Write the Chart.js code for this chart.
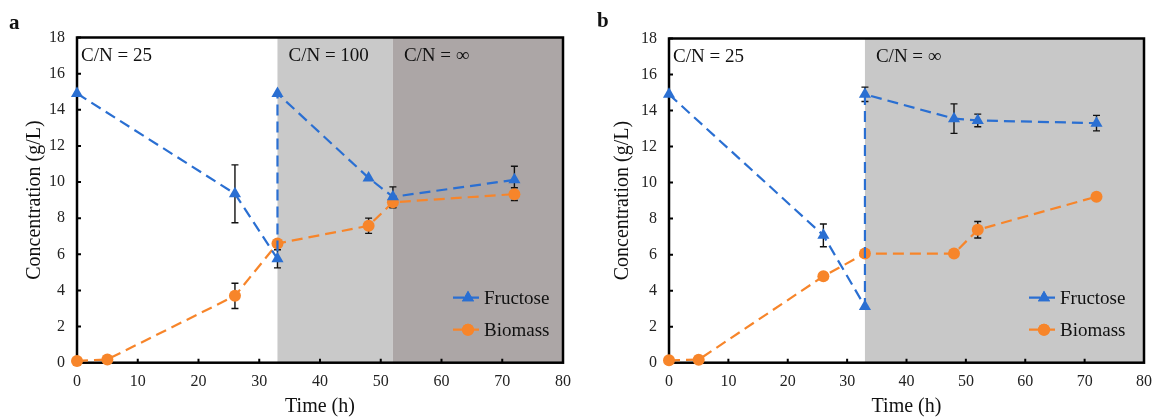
<!DOCTYPE html>
<html>
<head>
<meta charset="utf-8">
<script src="https://cdn.jsdelivr.net/npm/chart.js@4.4.1/dist/chart.umd.min.js"></script>
<style>
  body { margin: 0; background: #fff; }
  #page { position: relative; width: 1161px; height: 419px; overflow: hidden; background: #fff; }
  .panel { position: absolute; top: 0; height: 419px; }
  .tag { position: absolute; font: bold 21px 'Liberation Serif', serif; color: #111; line-height: 1; }
</style>
</head>
<body>
<div id="page">
  <div class="panel" style="left:0;width:580px"><canvas id="chartA"></canvas></div>
  <div class="panel" style="left:580px;width:581px"><canvas id="chartB"></canvas></div>
  <div class="tag" style="left:9px;top:12px">a</div>
  <div class="tag" style="left:597px;top:10px">b</div>
</div>
<script>
// ---- data ----
const xTickValues = [0, 10, 20, 30, 40, 50, 60, 70, 80];
const yTickValues = [0, 2, 4, 6, 8, 10, 12, 14, 16, 18];

// panel a
const fructoseTimeA = [0, 26, 33, 33, 48, 52, 72];
const fructoseA = [14.9, 9.35, 5.75, 14.9, 10.23, 9.18, 10.12];
const fructoseErrA = [0, 1.6, 0.5, 0, 0, 0.55, 0.75];
const biomassTimeA = [0, 5, 26, 33, 48, 52, 72];
const biomassA = [0.1, 0.18, 3.7, 6.6, 7.58, 8.88, 9.33];
const biomassErrA = [0, 0, 0.7, 0.15, 0.42, 0.3, 0.35];
const phaseStartA = [0, 33, 52];
const phaseEndA = [33, 52, 80];
const phaseLabelA = ['C/N = 25', 'C/N = 100', 'C/N = \u221e'];

// panel b
const fructoseTimeB = [0, 26, 33, 33, 48, 52, 72];
const fructoseB = [14.9, 7.07, 3.12, 14.9, 13.55, 13.45, 13.3];
const fructoseErrB = [0, 0.63, 0, 0.4, 0.82, 0.35, 0.43];
const biomassTimeB = [0, 5, 26, 33, 48, 52, 72];
const biomassB = [0.13, 0.17, 4.8, 6.06, 6.06, 7.38, 9.22];
const biomassErrB = [0, 0, 0, 0, 0, 0.46, 0];
const phaseStartB = [0, 33];
const phaseEndB = [33, 80];
const phaseLabelB = ['C/N = 25', 'C/N = \u221e'];

const BLUE = '#2a6fd2';
const ORANGE = '#f7852a';

Chart.defaults.font.family = '"Liberation Serif", "Times New Roman", serif';
Chart.defaults.color = '#222';

function toPoints(xs, ys) {
    return xs.map((v, i) => ({x: v, y: ys[i]}))
}

// shading, frame, inward ticks, phase labels, error bars and legend
const panelDecor = {
    id: 'panelDecor',
    beforeDatasetsDraw(chart, args, opts) {
        const {ctx, chartArea: area} = chart
        const x = chart.scales.x, y = chart.scales.y
        ctx.save()
        opts.starts.forEach((s, i) => {
            const x0 = x.getPixelForValue(s), x1 = x.getPixelForValue(opts.ends[i])
            ctx.fillStyle = opts.colors[i]
            ctx.fillRect(x0, area.top, x1 - x0, area.bottom - area.top)
        })

        ctx.strokeStyle = '#000'
        ctx.lineWidth = 2.5
        ctx.strokeRect(area.left, area.top, area.right - area.left, area.bottom - area.top)

        ctx.lineWidth = 2
        ctx.beginPath()
        x.ticks.forEach(t => {
            const px = x.getPixelForValue(t.value)
            ctx.moveTo(px, area.bottom)
            ctx.lineTo(px, area.bottom - 4)
        })
        y.ticks.forEach(t => {
            const py = y.getPixelForValue(t.value)
            ctx.moveTo(area.left, py)
            ctx.lineTo(area.left + 4, py)
        })
        ctx.stroke()

        ctx.font = '19px "Liberation Serif"'
        ctx.fillStyle = '#111'
        ctx.textBaseline = 'middle'
        ctx.textAlign = 'left'
        opts.starts.forEach((s, i) => {
            const px = x.getPixelForValue(s) + (i === 0 ? 4 : 11)
            ctx.fillText(opts.labels[i], px, area.top + 19)
        })

        // error bars go under the markers
        ctx.strokeStyle = '#111'
        ctx.lineWidth = 1.4
        chart.data.datasets.forEach(ds => {
            ds.data.forEach((p, i) => {
                const e = ds.errorBars[i]
                if (!e) return
                const px = x.getPixelForValue(p.x)
                const top = y.getPixelForValue(p.y + e), bot = y.getPixelForValue(p.y - e)
                ctx.beginPath()
                ctx.moveTo(px, top); ctx.lineTo(px, bot)
                ctx.moveTo(px - 3.5, top); ctx.lineTo(px + 3.5, top)
                ctx.moveTo(px - 3.5, bot); ctx.lineTo(px + 3.5, bot)
                ctx.stroke()
            })
        })
        ctx.restore()
    },
    afterDraw(chart, args, opts) {
        const {ctx, chartArea: area} = chart
        ctx.save()
        chart.data.datasets.forEach((ds, i) => {
            const x0 = area.right - opts.legendRight
            const yy = area.bottom - 65 + i * 32
            ctx.strokeStyle = ds.borderColor
            ctx.lineWidth = ds.borderWidth
            ctx.setLineDash([11, 4])
            ctx.beginPath()
            ctx.moveTo(x0, yy)
            ctx.lineTo(x0 + 28, yy)
            ctx.stroke()
            ctx.setLineDash([])
            ctx.fillStyle = ds.backgroundColor
            Chart.helpers.drawPoint(ctx, {pointStyle: ds.pointStyle, radius: ds.pointRadius, borderWidth: 0, rotation: 0}, x0 + 15, yy)
            ctx.fill()
            ctx.fillStyle = '#111'
            ctx.font = '19px "Liberation Serif"'
            ctx.textBaseline = 'middle'
            ctx.fillText(ds.label, x0 + 31, yy + 1)
        })
        ctx.restore()
    }
}

function makeChart(id, p) {
    const lineStyle = {
        borderWidth: 2.2,
        borderDash: [11, 6],
        pointBorderWidth: 0,
        clip: false,
        tension: 0
    }
    return new Chart(document.getElementById(id), {
        type: 'line',
        data: {
            datasets: [{
                ...lineStyle,
                label: 'Fructose',
                data: toPoints(p.fTime, p.fructose),
                errorBars: p.fErr,
                borderColor: BLUE,
                backgroundColor: BLUE,
                pointStyle: 'triangle',
                pointRadius: 7
            }, {
                ...lineStyle,
                label: 'Biomass',
                data: toPoints(p.bTime, p.biomass),
                errorBars: p.bErr,
                borderColor: ORANGE,
                backgroundColor: ORANGE,
                pointStyle: 'circle',
                pointRadius: 6
            }]
        },
        options: {
            responsive: true,
            maintainAspectRatio: false,
            animation: false,
            layout: {padding: {left: 0, right: p.padRight, top: p.top, bottom: 0}},
            plugins: {
                legend: {display: false},
                tooltip: {enabled: false},
                panelDecor: {
                    starts: p.starts,
                    ends: p.ends,
                    labels: p.labels,
                    colors: p.colors,
                    legendRight: p.legendRight
                }
            },
            scales: {
                x: {
                    type: 'linear',
                    min: 0,
                    max: 80,
                    afterBuildTicks: s => { s.ticks = xTickValues.map(v => ({value: v})) },
                    afterFit: s => { s.height = 419 - 362.7 },
                    grid: {display: false, drawTicks: false},
                    border: {display: false},
                    ticks: {padding: 9, font: {size: 16}, color: '#222', maxRotation: 0},
                    title: {display: true, text: 'Time (h)', font: {size: 20}, color: '#111', padding: {top: 0, bottom: 0}}
                },
                y: {
                    min: 0,
                    max: 18,
                    afterBuildTicks: s => { s.ticks = yTickValues.map(v => ({value: v})) },
                    afterFit: s => { s.width = p.left },
                    grid: {display: false, drawTicks: false},
                    border: {display: false},
                    ticks: {padding: 12, font: {size: 16}, color: '#222'},
                    title: {display: true, text: 'Concentration (g/L)', font: {size: 20}, color: '#111', padding: {top: p.titlePad, bottom: 0}}
                }
            }
        },
        plugins: [panelDecor]
    })
}

makeChart('chartA', {
    fTime: fructoseTimeA, fructose: fructoseA, fErr: fructoseErrA,
    bTime: biomassTimeA, biomass: biomassA, bErr: biomassErrA,
    starts: phaseStartA, ends: phaseEndA, labels: phaseLabelA,
    colors: ['#ffffff', '#c9c9c9', '#aca6a6'],
    left: 77, padRight: 14, top: 37.5, titlePad: 23, legendRight: 110
})

makeChart('chartB', {
    fTime: fructoseTimeB, fructose: fructoseB, fErr: fructoseErrB,
    bTime: biomassTimeB, biomass: biomassB, bErr: biomassErrB,
    starts: phaseStartB, ends: phaseEndB, labels: phaseLabelB,
    colors: ['#ffffff', '#c8c8c8'],
    left: 89, padRight: 12, top: 38.5, titlePad: 31, legendRight: 115
})
</script>
</body>
</html>
